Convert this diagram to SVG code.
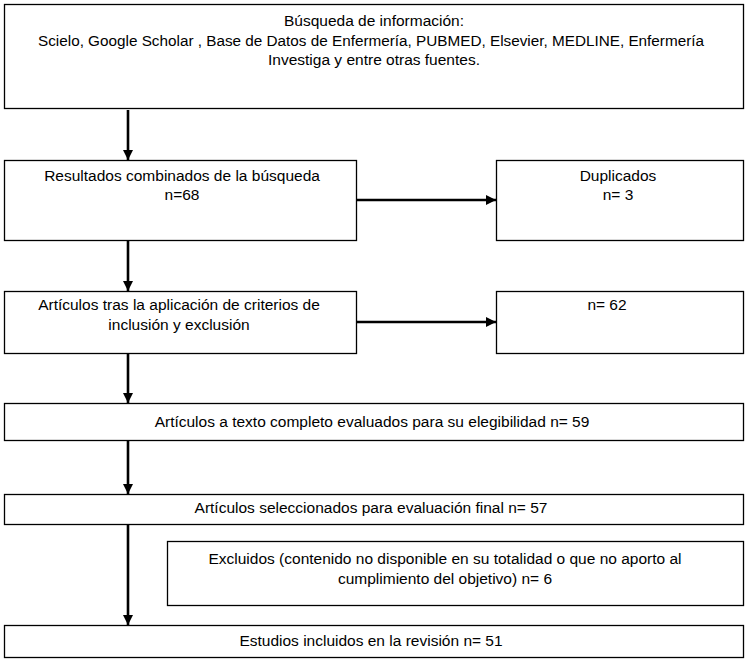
<svg xmlns="http://www.w3.org/2000/svg" width="748" height="666" viewBox="0 0 748 666">
<style>
.box{fill:#fff;stroke:#000;stroke-width:1.3}
.t{font-family:"Liberation Sans",Arial,sans-serif;font-size:15.5px;fill:#000;text-anchor:middle}
.c{stroke:#000;stroke-width:2.6;fill:none}
</style>
<defs>
<marker id="ah" viewBox="0 0 10 10" refX="10" refY="5" markerWidth="4" markerHeight="4" markerUnits="strokeWidth" orient="auto">
<path d="M0,0 L10,5 L0,10 Z" fill="#000"/>
</marker>
</defs>
<rect width="748" height="666" fill="#fff"/>
<g id="n1">
<rect class="box" x="4.5" y="4.5" width="739" height="104"/>
<text class="t" x="374" y="26">Búsqueda de información:</text>
<text class="t" x="371" y="46" textLength="666" lengthAdjust="spacingAndGlyphs">Scielo, Google Scholar , Base de Datos de Enfermería, PUBMED, Elsevier, MEDLINE, Enfermería</text>
<text class="t" x="374" y="65">Investiga y entre otras fuentes.</text>
</g>
<g id="n2">
<rect class="box" x="4.5" y="160.5" width="352" height="80"/>
<text class="t" x="182" y="181">Resultados combinados de la búsqueda</text>
<text class="t" x="182" y="200">n=68</text>
</g>
<g id="n3">
<rect class="box" x="496.5" y="160.5" width="247" height="80"/>
<text class="t" x="618" y="181">Duplicados</text>
<text class="t" x="618" y="200">n= 3</text>
</g>
<g id="n4">
<rect class="box" x="4.5" y="291.5" width="352" height="62"/>
<text class="t" x="179" y="310">Artículos tras la aplicación de criterios de</text>
<text class="t" x="179" y="330">inclusión y exclusión</text>
</g>
<g id="n5">
<rect class="box" x="496.5" y="291.5" width="247" height="62"/>
<text class="t" x="607" y="310">n= 62</text>
</g>
<g id="n6">
<rect class="box" x="4.5" y="403.5" width="739" height="37"/>
<text class="t" x="372" y="427">Artículos a texto completo evaluados para su elegibilidad n= 59</text>
</g>
<g id="n7">
<rect class="box" x="4.5" y="494.5" width="739" height="30"/>
<text class="t" x="371" y="513">Artículos seleccionados para evaluación final n= 57</text>
</g>
<g id="n8">
<rect class="box" x="167.5" y="541.5" width="576" height="64"/>
<text class="t" x="445" y="564">Excluidos (contenido no disponible en su totalidad o que no aporto al</text>
<text class="t" x="445" y="584">cumplimiento del objetivo) n= 6</text>
</g>
<g id="n9">
<rect class="box" x="4.5" y="625.5" width="739" height="32"/>
<text class="t" x="371" y="646">Estudios incluidos en la revisión n= 51</text>
</g>
<g id="connectors">
<line class="c" x1="128" y1="110" x2="128" y2="160" marker-end="url(#ah)"/>
<line class="c" x1="128" y1="241" x2="128" y2="291" marker-end="url(#ah)"/>
<line class="c" x1="128" y1="354" x2="128" y2="403" marker-end="url(#ah)"/>
<line class="c" x1="128" y1="441" x2="128" y2="494" marker-end="url(#ah)"/>
<line class="c" x1="128" y1="525" x2="128" y2="625" marker-end="url(#ah)"/>
<line class="c" x1="357" y1="200" x2="496" y2="200" marker-end="url(#ah)"/>
<line class="c" x1="357" y1="322" x2="496" y2="322" marker-end="url(#ah)"/>
</g>
</svg>
